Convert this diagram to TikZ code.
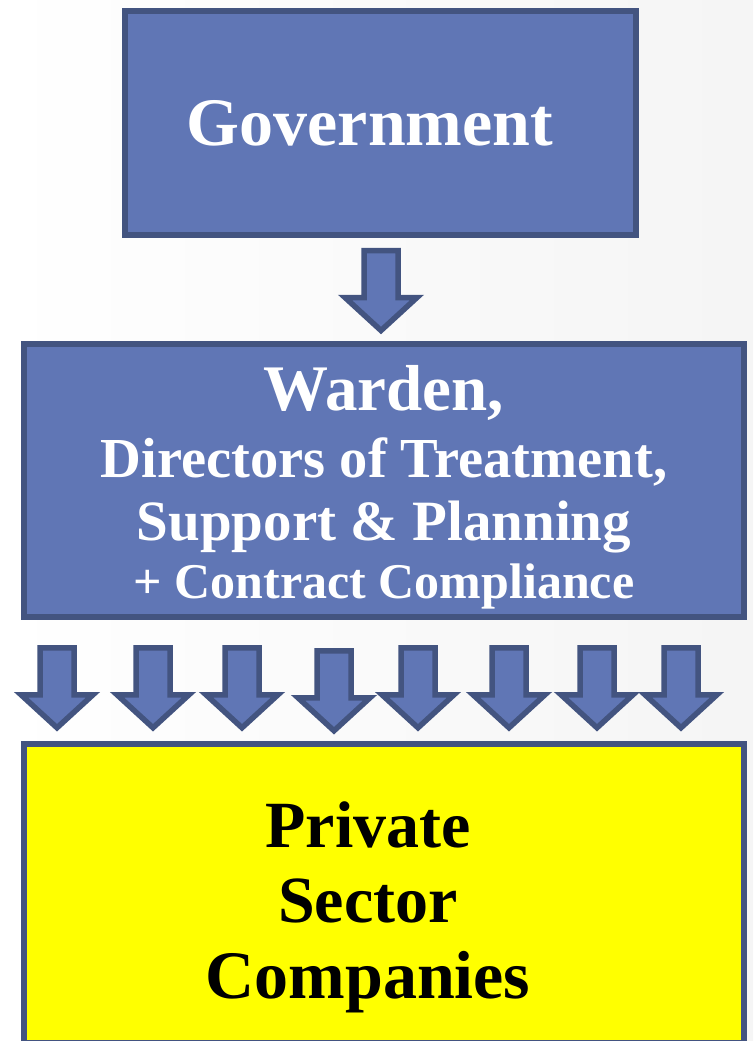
\documentclass[tikz,border=0pt]{standalone}
\usepackage{fontspec}
\setmainfont{Liberation Serif}
\definecolor{boxblue}{RGB}{96,118,181}
\definecolor{edgeblue}{RGB}{67,84,128}
\definecolor{boxyellow}{RGB}{255,255,0}
\tikzset{
  orgbox/.style={draw=edgeblue, line width=5.5pt, align=center},
  bluebox/.style={orgbox, fill=boxblue, text=white},
  yellowbox/.style={orgbox, fill=boxyellow, text=black},
  blockarrow/.pic={\draw[edgeblue, fill=boxblue, line width=5.5pt, miter limit=10]
    (-17,0) -- (17,0) -- (17,47) -- (36,47) -- (0,80) -- (-36,47) -- (-17,47) -- cycle;}
}

\begin{document}
\begin{tikzpicture}[x=1pt, y=-1pt]
	\useasboundingbox (0,0) rectangle (753,1041);
	\clip (0,0) rectangle (753,1041);
	\fill[left color=white, right color=gray!8] (0,0) rectangle (753,1041);

	\node[bluebox, minimum width=511pt, minimum height=224pt,
		font=\bfseries\fontsize{68}{72}\selectfont] (gov) at (380.5,123)
		{Government\kern21pt};
	\node[bluebox, minimum width=720pt, minimum height=273pt,
		font=\bfseries\fontsize{56}{58}\selectfont] (ward) at (384,480.5)
		{\fontsize{65}{58}\selectfont\rule{0pt}{58pt}Warden,\\[9pt]
		 \fontsize{56.5}{58}\selectfont Directors of Treatment,\\[5pt]
		 \fontsize{57}{58}\selectfont Support \& Planning\\
		 \fontsize{50}{58}\selectfont + Contract Compliance};
	\node[yellowbox, minimum width=720pt, minimum height=299pt,
		font=\bfseries\fontsize{66}{75}\selectfont] (priv) at (384,893.5)
		{\rule{0pt}{74pt}Private\kern32pt\\
		 Sector\kern32pt\\[1pt]
		 \fontsize{68}{75}\selectfont Companies\kern32pt};

	% one arrow down to the managers, eight down to the companies
	\pic at ([xshift=0.5pt, yshift=-12.75pt]gov.south) {blockarrow};
	\foreach \x/\dy in {57/0, 153/0, 242/0, 334/3, 418/0, 509/0, 597/0, 681/0}
		\pic at (\x, 647.75+\dy) {blockarrow};
\end{tikzpicture}
\end{document}
